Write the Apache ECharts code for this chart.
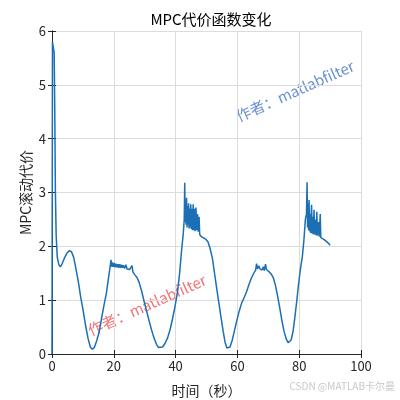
<!DOCTYPE html>
<html>
<head>
<meta charset="utf-8">
<title>MPC代价函数变化</title>
<script src="https://cdn.jsdelivr.net/npm/echarts@6/dist/echarts.min.js"></script>
<style>
  html, body { margin: 0; padding: 0; background: #fff; }
  #main { width: 400px; height: 400px; }
</style>
</head>
<body>
<div id="main"></div>
<script>
// 时间（秒）
var timeData = [
  0, 0.15, 0.55, 0.7, 0.9, 1.1, 1.35, 1.7, 2.2, 2.7, 3.3, 4.0, 4.8, 5.6, 6.3, 7.0, 7.7, 8.5, 9.3, 10.1,
  10.9, 11.7, 12.4, 13.0, 13.7, 14.5, 15.3, 16.0, 16.8, 17.6, 18.3, 18.8, 19.1, 19.3, 19.5, 19.8, 20.1, 20.4, 20.7, 21.0,
  21.3, 21.6, 21.9, 22.2, 22.5, 22.8, 23.1, 23.5, 23.9, 24.3, 24.7, 25.1, 25.5, 25.9, 26.2, 26.8, 27.5, 28.2, 29.0, 29.8,
  30.6, 31.4, 32.2, 33.0, 33.8, 34.5, 35.1, 35.8, 36.6, 37.4, 38.2, 39.0, 39.8, 40.6, 41.3, 41.9, 42.5, 42.8, 42.95, 43.1,
  43.25, 43.4, 43.55, 43.7, 43.85, 44.0, 44.2, 44.35, 44.5, 44.7, 44.9, 45.1, 45.3, 45.5, 45.7, 45.9, 46.1, 46.3, 46.6, 46.8,
  47.1, 47.3, 47.6, 47.8, 48.3, 49.0, 49.8, 50.5, 51.2, 51.9, 52.6, 53.3, 54.0, 54.7, 55.4, 56.0, 56.6, 57.1, 57.6, 58.3,
  59.0, 59.8, 60.6, 61.4, 62.2, 63.0, 63.8, 64.6, 65.3, 65.9, 66.2, 66.5, 66.9, 67.3, 67.7, 68.0, 68.4, 68.7, 69.1, 69.4,
  69.8, 70.4, 71.0, 71.6, 72.3, 73.0, 73.7, 74.4, 75.1, 75.8, 76.4, 76.9, 77.4, 78.0, 78.6, 79.2, 79.8, 80.4, 81.0, 81.5,
  82.0, 82.35, 82.55, 82.7, 82.9, 83.05, 83.2, 83.35, 83.5, 83.7, 84.0, 84.2, 84.4, 84.6, 84.8, 85.0, 85.3, 85.5, 85.7, 85.9,
  86.3, 86.5, 86.8, 87.0, 87.5, 88.2, 88.8, 89.4, 90.0
];
// MPC滚动代价
var costData = [
  0, 5.8, 5.8, 5.6, 4.5, 3.0, 2.2, 1.8, 1.66, 1.62, 1.68, 1.78, 1.87, 1.92, 1.9, 1.8, 1.6, 1.35, 1.05, 0.8,
  0.52, 0.28, 0.13, 0.09, 0.12, 0.25, 0.42, 0.65, 0.9, 1.13, 1.42, 1.62, 1.75, 1.62, 1.7, 1.62, 1.69, 1.61, 1.68, 1.61,
  1.67, 1.6, 1.67, 1.6, 1.66, 1.6, 1.65, 1.59, 1.66, 1.58, 1.6, 1.57, 1.58, 1.64, 1.52, 1.47, 1.42, 1.33, 1.17, 0.98,
  0.8, 0.62, 0.45, 0.3, 0.18, 0.12, 0.1, 0.13, 0.2, 0.3, 0.45, 0.65, 0.88, 1.15, 1.5, 1.9, 2.25, 2.5, 3.18, 2.45,
  2.85, 2.4, 2.9, 2.35, 2.75, 2.4, 2.8, 2.33, 2.7, 2.35, 2.78, 2.32, 2.7, 2.3, 2.78, 2.3, 2.7, 2.28, 2.72, 2.3,
  2.6, 2.27, 2.55, 2.22, 2.18, 2.16, 2.13, 2.08, 1.95, 1.78, 1.5, 1.22, 0.95, 0.68, 0.42, 0.22, 0.11, 0.09, 0.13, 0.25,
  0.42, 0.62, 0.8, 0.95, 1.05, 1.16, 1.3, 1.42, 1.5, 1.56, 1.68, 1.58, 1.64, 1.58, 1.6, 1.56, 1.62, 1.55, 1.67, 1.57,
  1.6, 1.52, 1.48, 1.42, 1.28, 1.08, 0.86, 0.62, 0.42, 0.28, 0.21, 0.2, 0.26, 0.42, 0.68, 0.98, 1.3, 1.58, 1.8, 2.1,
  2.5, 2.6, 3.19, 2.35, 2.8, 2.3, 2.86, 2.28, 2.6, 2.25, 2.77, 2.24, 2.55, 2.22, 2.68, 2.22, 2.5, 2.2, 2.64, 2.2,
  2.45, 2.18, 2.6, 2.16, 2.14, 2.12, 2.1, 2.06, 2.02
];
var xTicks = [0, 20, 40, 60, 80, 100];
var yTicks = [0, 1, 2, 3, 4, 5, 6];

var font = '"Noto Sans CJK SC", "Noto Sans", sans-serif';
var seriesData = timeData.map(function (t, i) { return [t, costData[i]]; });

var chart = echarts.init(document.getElementById('main'));

// 上/右两条边框轴（MATLAB box on）
var boxAxis = function (pos, min, max, interval) {
  return {
    type: 'value', position: pos, min: min, max: max, interval: interval,
    axisLine: { show: true, lineStyle: { color: '#262626', width: 1 } },
    axisTick: { show: true, inside: true, length: 4, lineStyle: { color: '#262626' } },
    axisLabel: { show: false },
    splitLine: { show: false }
  };
};

chart.setOption({
  animation: false,
  title: {
    text: 'MPC代价函数变化',
    left: 206, top: 7, textAlign: 'center',
    textStyle: { fontFamily: font, fontSize: 15, fontWeight: 'normal', color: '#000' }
  },
  grid: { left: 52, right: 39, top: 31, bottom: 46, outerBoundsMode: 'none' },
  xAxis: [{
    type: 'value', min: xTicks[0], max: xTicks[xTicks.length - 1], interval: 20,
    name: '时间（秒）', nameLocation: 'middle', nameGap: 30, nameMoveOverlap: false,
    nameTextStyle: { fontFamily: font, fontSize: 14, color: '#262626' },
    axisLine: { show: true, lineStyle: { color: '#262626', width: 1 } },
    axisTick: { show: true, inside: true, length: 4, lineStyle: { color: '#262626' } },
    axisLabel: { fontFamily: font, fontSize: 13, color: '#262626', margin: 6 },
    splitLine: { show: true, lineStyle: { color: '#dcdcdc', width: 1 } }
  }, boxAxis('top', 0, 100, 20)],
  yAxis: [{
    type: 'value', min: yTicks[0], max: yTicks[yTicks.length - 1], interval: 1,
    name: 'MPC滚动代价', nameLocation: 'middle', nameGap: 19, nameMoveOverlap: false,
    nameTextStyle: { fontFamily: font, fontSize: 14, color: '#262626' },
    axisLine: { show: true, lineStyle: { color: '#262626', width: 1 } },
    axisTick: { show: true, inside: true, length: 4, lineStyle: { color: '#262626' } },
    axisLabel: { fontFamily: font, fontSize: 13, color: '#262626', margin: 6 },
    splitLine: { show: true, lineStyle: { color: '#dcdcdc', width: 1 } }
  }, boxAxis('right', 0, 6, 1)],
  series: [{
    type: 'line',
    data: seriesData,
    showSymbol: false,
    lineStyle: { color: '#1a6fb5', width: 1.5 },
    itemStyle: { color: '#1a6fb5' }
  }],
  graphic: [
    {
      type: 'text', x: 295, y: 91, rotation: 0.42,
      style: {
        text: '作者：matlabfilter', fontFamily: font, fontSize: 15,
        fill: 'rgba(80,125,205,0.85)', align: 'center', verticalAlign: 'middle'
      }
    },
    {
      type: 'text', x: 147, y: 305, rotation: 0.42,
      style: {
        text: '作者：matlabfilter', fontFamily: font, fontSize: 15,
        fill: 'rgba(240,80,80,0.8)', align: 'center', verticalAlign: 'middle'
      }
    },
    {
      type: 'text', right: 5, top: 381,
      style: {
        text: 'CSDN @MATLAB卡尔曼', fontFamily: font, fontSize: 10,
        fill: '#c8c8c8'
      }
    }
  ]
});
</script>
</body>
</html>
